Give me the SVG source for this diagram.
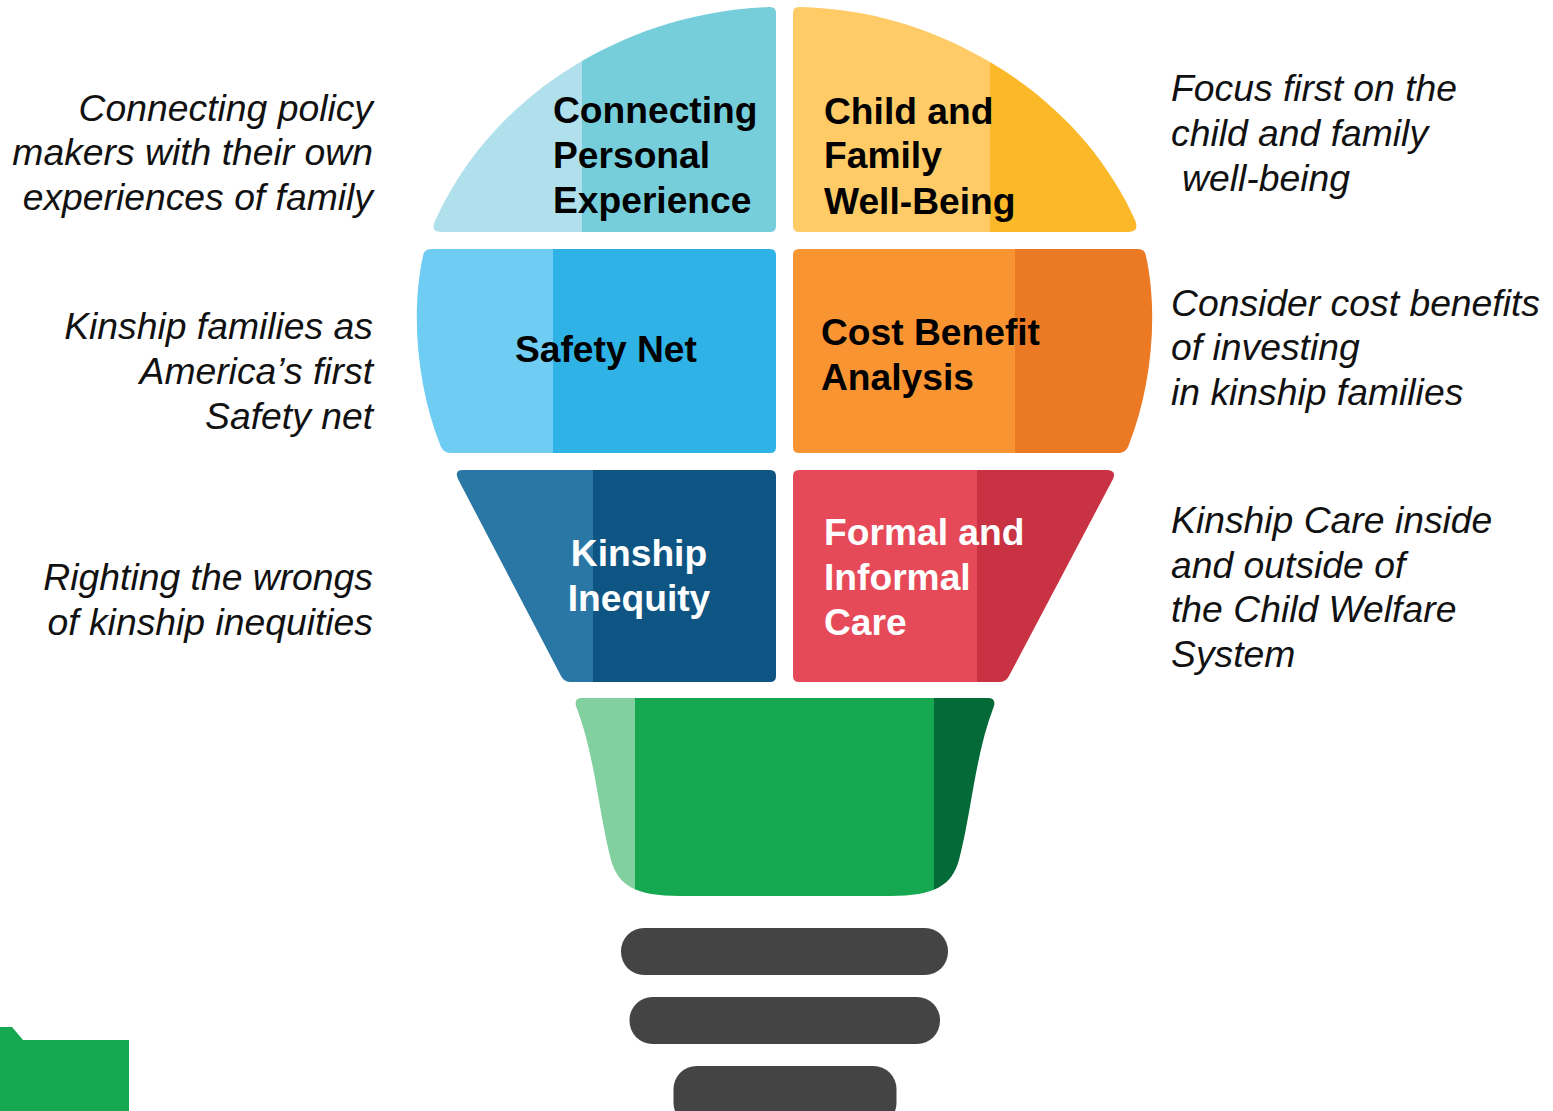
<svg xmlns="http://www.w3.org/2000/svg" width="1553" height="1111" viewBox="0 0 1553 1111">
<style>
text{font-family:"Liberation Sans",Arial,sans-serif;font-size:37.2px}
.h{font-weight:700;fill:#000}
.w{font-weight:700;fill:#fff}
.l{font-style:italic;font-size:37.3px;fill:#111;text-anchor:end}
.r{font-style:italic;font-size:37.3px;fill:#111}
.pill{fill:#444}
</style>
<defs>
<clipPath id="c1"><path d="M770,7C700,10 640,28 582,61C515,100 465,155 435,221Q430,232 441,232L770,232Q776,232 776,226L776,13Q776,7 770,7Z"/></clipPath>
<clipPath id="c2"><path d="M799,7C870,9 930,27 990,62C1058,102 1107,158 1135,220Q1140,232 1128,232L799,232Q793,232 793,226L793,13Q793,7 799,7Z"/></clipPath>
<clipPath id="c3"><path d="M770,249L431,249Q424,249 423,256C411,310 416,385 441,447Q444,453 451,453L770,453Q776,453 776,447L776,255Q776,249 770,249Z"/></clipPath>
<clipPath id="c4"><path d="M799,249L1138,249Q1145,249 1146,256C1158,310 1153,385 1128,447Q1125,453 1118,453L799,453Q793,453 793,447L793,255Q793,249 799,249Z"/></clipPath>
<clipPath id="c5"><path d="M770,470L463,470Q454,470 458,479L561,676Q564,682 571,682L770,682Q776,682 776,676L776,476Q776,470 770,470Z"/></clipPath>
<clipPath id="c6"><path d="M799,470L1106,470Q1117,470 1113,479L1009,676Q1006,682 999,682L799,682Q793,682 793,676L793,476Q793,470 799,470Z"/></clipPath>
<clipPath id="c7"><path d="M582,698L988,698Q996,698 994,706C975,755 972,810 959,860C952,885 935,896 890,896L680,896C635,896 618,885 611,860C598,810 595,755 576,706Q574,698 582,698Z"/></clipPath>
</defs>
<g id="node-personal">
<g clip-path="url(#c1)"><rect x="420" y="0" width="162" height="240" fill="#b0e0ec"/><rect x="582" y="0" width="200" height="240" fill="#76cedb"/></g>
<text class="h"><tspan x="553" y="123">Connecting</tspan><tspan x="553" y="168">Personal</tspan><tspan x="553" y="213">Experience</tspan></text>
</g>
<g id="node-wellbeing">
<g clip-path="url(#c2)"><rect x="790" y="0" width="200" height="240" fill="#fecb67"/><rect x="990" y="0" width="160" height="240" fill="#fbb829"/></g>
<text class="h"><tspan x="824" y="124">Child and</tspan><tspan x="824" y="168">Family</tspan><tspan x="824" y="214">Well-Being</tspan></text>
</g>
<g id="node-safety">
<g clip-path="url(#c3)"><rect x="410" y="245" width="143" height="215" fill="#6fcdf3"/><rect x="553" y="245" width="230" height="215" fill="#2fb3e6"/></g>
<text class="h" x="515" y="362">Safety Net</text>
</g>
<g id="node-cost">
<g clip-path="url(#c4)"><rect x="790" y="245" width="225" height="215" fill="#f99433"/><rect x="1015" y="245" width="145" height="215" fill="#ec7a24"/></g>
<text class="h"><tspan x="821" y="345">Cost Benefit</tspan><tspan x="821" y="390">Analysis</tspan></text>
</g>
<g id="node-inequity">
<g clip-path="url(#c5)"><rect x="450" y="465" width="143" height="222" fill="#2a77a6"/><rect x="593" y="465" width="190" height="222" fill="#0f5583"/></g>
<text class="w" text-anchor="middle"><tspan x="639" y="566">Kinship</tspan><tspan x="639" y="611">Inequity</tspan></text>
</g>
<g id="node-care">
<g clip-path="url(#c6)"><rect x="790" y="465" width="187" height="222" fill="#e64a59"/><rect x="977" y="465" width="145" height="222" fill="#c93242"/></g>
<text class="w"><tspan x="824" y="545">Formal and</tspan><tspan x="824" y="590">Informal</tspan><tspan x="824" y="635">Care</tspan></text>
</g>
<g id="node-base" clip-path="url(#c7)">
<rect x="570" y="695" width="65" height="205" fill="#82d0a0"/><rect x="635" y="695" width="299" height="205" fill="#16a850"/><rect x="934" y="695" width="65" height="205" fill="#046a38"/>
</g>
<g id="node-screw">
<rect class="pill" x="621" y="928" width="327" height="47" rx="23"/>
<rect class="pill" x="629.5" y="997" width="310.5" height="47" rx="23"/>
<rect class="pill" x="673.5" y="1066" width="223" height="60" rx="23"/>
</g>
<path id="node-corner" d="M0,1027L12,1027L23,1040L129,1040L129,1111L0,1111Z" fill="#16a850"/>
<g id="notes-left">
<text class="l"><tspan x="373" y="121">Connecting policy</tspan><tspan x="373" y="165">makers with their own</tspan><tspan x="373" y="210">experiences of family</tspan></text>
<text class="l"><tspan x="373" y="339">Kinship families as</tspan><tspan x="373" y="384">America’s first</tspan><tspan x="373" y="429">Safety net</tspan></text>
<text class="l"><tspan x="373" y="590">Righting the wrongs</tspan><tspan x="373" y="635">of kinship inequities</tspan></text>
</g>
<g id="notes-right">
<text class="r"><tspan x="1171" y="101">Focus first on the</tspan><tspan x="1171" y="146">child and family</tspan><tspan x="1182" y="191">well-being</tspan></text>
<text class="r"><tspan x="1171" y="316">Consider cost benefits</tspan><tspan x="1171" y="360">of investing</tspan><tspan x="1171" y="405">in kinship families</tspan></text>
<text class="r"><tspan x="1171" y="533">Kinship Care inside</tspan><tspan x="1171" y="578">and outside of</tspan><tspan x="1171" y="622">the Child Welfare</tspan><tspan x="1171" y="667">System</tspan></text>
</g>
<g id="connectors"></g>
</svg>
